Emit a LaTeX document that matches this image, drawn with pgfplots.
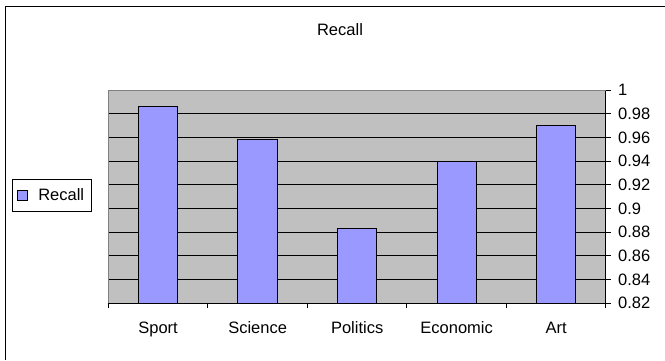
\documentclass[border=0pt]{standalone}
\usepackage{pgfplots}
\pgfplotsset{compat=1.18}
\usepackage{fontspec}
\setmainfont{Liberation Sans}
\definecolor{barcol}{HTML}{9999FF}
\definecolor{plotbg}{HTML}{C0C0C0}
\begin{document}
\fontsize{16.5}{19}\selectfont
\begin{tikzpicture}[x=1pt,y=1pt]
\useasboundingbox (0,0) rectangle (665,360);
\draw[line width=1.6pt] (5.5,0) -- (5.5,353.5) -- (665,353.5);
\node[anchor=center] at (340,330) {Recall};
\begin{axis}[
  at={(108.3pt,56.7pt)}, anchor=south west,
  scale only axis, width=497.7pt, height=213.3pt,
  xmin=-0.5, xmax=4.5, ymin=0.82, ymax=1,
  axis background/.style={fill=plotbg},
  axis x line*=bottom, axis y line*=right,
  axis line style={line width=1pt, black},
  xtick={0,1,2,3,4},
  xticklabels={Sport,Science,Politics,Economic,Art},
  major x tick style={draw=none},
  minor xtick={-0.5,0.5,1.5,2.5,3.5,4.5},
  minor x tick style={line width=1pt, black},
  minor tick length=5pt,
  x tick label style={yshift=-3pt},
  ytick={0.82,0.84,...,1.001},
  ytick align=center, xtick align=outside,
  major tick length=10pt,
  y tick style={line width=1pt, black},
  ymajorgrids, grid style={line width=0.9pt, black},
  yticklabel style={/pgf/number format/fixed, /pgf/number format/precision=2, anchor=west, xshift=1.5pt},
  /pgf/number format/assume math mode=true,
  legend style={at={(-0.1935,0.506)}, anchor=west, draw=black, line width=0.8pt,
     inner xsep=5pt, inner ysep=7pt, font=\fontsize{16.5}{19}\selectfont},
  legend image code/.code={\draw[fill=barcol, draw=black, line width=0.8pt] (0pt,-5pt) rectangle (10pt,5pt); \path (18pt,0pt);},
  after end axis/.code={\draw[line width=1pt, color=gray] (rel axis cs:0,0) -- (rel axis cs:0,1) -- (rel axis cs:1,1);},
]
\addplot[ybar, bar width=0.395, fill=barcol, draw=black, line width=1pt]
  coordinates {(0,0.986) (1,0.958) (2,0.883) (3,0.940) (4,0.970)};
\addlegendentry{Recall}
\end{axis}
\end{tikzpicture}
\end{document}
